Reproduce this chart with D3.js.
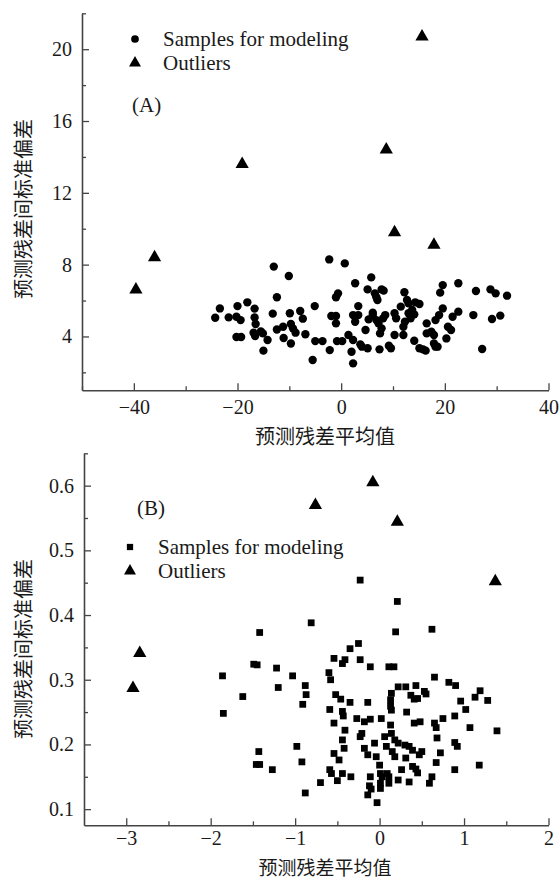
<!DOCTYPE html>
<html>
<head>
<meta charset="utf-8">
<script src="https://cdn.jsdelivr.net/npm/d3@7"></script>
<style>
  body { margin: 0; background: #fff; }
  svg text { fill: #1a1a1a; }
  .tick text { font-family: "Liberation Serif", "Times New Roman", serif !important; font-size: 20px !important; }
</style>
</head>
<body>
<div id="chart"></div>
<script>
// DATA: panel A (mean / std of prediction residuals)
const modelA = [
  [-24.3,5.04],[-23.4,5.56],[-21.7,5.06],[-20.0,5.69],[-20.2,5.10],[-19.4,4.91],[-20.2,3.97],[-19.3,3.97],
  [-18.1,5.90],[-16.7,5.55],[-16.7,5.06],[-16.5,4.69],[-16.9,4.21],[-16.6,4.02],[-15.5,4.28],[-15.1,4.17],
  [-15.0,3.21],[-14.2,3.80],[-13.2,5.27],[-13.0,7.89],[-12.4,6.18],[-12.4,4.39],[-11.2,4.54],[-11.1,3.91],
  [-10.1,7.37],[-9.9,5.29],[-9.7,4.69],[-9.7,3.61],[-9.3,4.45],[-8.8,4.21],[-7.9,5.42],[-7.4,4.99],
  [-6.9,4.12],[-5.1,5.69],[-5.5,2.69],[-5.0,3.74],[-3.6,3.74],[-2.3,8.29],[-2.2,3.24],[-1.9,5.14],
  [-1.0,5.14],[-1.0,6.18],[-0.6,6.40],[-1.0,4.73],[-0.8,3.74],[0.2,3.74],[0.7,8.07],[1.4,4.08],
  [2.0,3.15],[2.3,3.80],[2.3,2.50],[2.7,6.96],[2.3,5.19],[2.7,4.82],[3.3,5.69],[3.3,5.19],
  [3.7,3.56],[4.0,3.43],[5.1,3.34],[4.7,4.36],[5.3,4.95],[5.8,7.29],[5.1,6.62],[6.1,5.32],
  [6.5,6.40],[6.8,6.18],[7.0,6.03],[6.1,5.19],[6.8,4.91],[7.8,6.62],[8.2,6.55],[7.2,4.73],
  [8.1,5.01],[8.5,5.19],[7.5,4.17],[7.8,4.45],[7.4,3.28],[9.2,3.48],[9.6,3.34],[10.3,5.29],
  [10.6,5.01],[10.3,4.08],[11.5,5.66],[12.0,4.08],[12.0,4.54],[12.3,4.82],[12.2,6.46],[12.7,6.03],
  [13.0,5.84],[13.0,5.29],[13.4,5.01],[13.7,5.47],[14.1,5.23],[14.1,3.76],[14.3,5.90],[15.1,5.81],
  [15.1,3.34],[15.8,3.28],[16.3,3.21],[16.5,4.73],[16.5,4.17],[17.4,4.26],[17.9,4.08],[17.9,3.61],
  [18.2,3.43],[18.6,3.43],[18.2,4.91],[18.9,5.19],[19.1,6.44],[19.6,6.86],[19.6,5.56],[20.3,3.89],
  [20.6,4.54],[21.2,4.36],[21.5,5.10],[22.6,6.96],[22.6,5.38],[25.5,5.19],[26.0,6.53],[27.2,3.30],
  [28.8,6.62],[29.8,6.40],[29.1,4.97],[30.7,5.16],[32.0,6.27]
];
const outliersA = [
  [-39.6,6.6],[-36.0,8.4],[-19.1,13.6],[8.7,14.4],[10.3,9.8],[17.9,9.1],[15.6,20.7]
];
const xTicksA = [-40, -20, 0, 20, 40];
const xMinorA = [-50, -30, -10, 10, 30];
const yTicksA = [4, 8, 12, 16, 20];
const yMinorA = [2, 6, 10, 14, 18, 22];

// DATA: panel B
const modelB = [
  [-1.86,0.306],[-1.85,0.248],[-1.62,0.274],[-1.49,0.324],[-1.45,0.323],[-1.43,0.189],[-1.46,0.169],[-1.42,0.169],
  [-1.27,0.161],[-1.22,0.318],[-1.20,0.288],[-1.03,0.306],[-0.98,0.197],[-0.92,0.173],[-0.91,0.262],[-0.88,0.291],
  [-0.87,0.277],[-0.88,0.125],[-0.70,0.141],[-0.60,0.311],[-0.58,0.300],[-0.59,0.254],[-0.59,0.161],[-0.57,0.155],
  [-0.54,0.333],[-0.52,0.277],[-0.54,0.233],[-0.54,0.186],[-0.50,0.144],[-0.48,0.176],[-0.46,0.270],[-0.44,0.325],
  [-0.41,0.331],[-0.44,0.251],[-0.43,0.244],[-0.44,0.207],[-0.42,0.194],[-0.41,0.222],[-0.44,0.155],[-0.35,0.348],
  [-0.35,0.265],[-0.34,0.150],[-0.27,0.240],[-0.25,0.356],[-0.23,0.331],[-0.23,0.212],[-0.21,0.217],[-0.18,0.235],
  [-0.18,0.194],[-0.14,0.265],[-0.14,0.184],[-0.14,0.122],[-0.11,0.320],[-0.11,0.239],[-0.11,0.150],[-0.12,0.136],
  [-0.10,0.131],[-0.06,0.202],[-0.04,0.181],[-0.03,0.110],[0.00,0.168],[0.01,0.155],[0.03,0.150],[0.02,0.240],
  [0.01,0.140],[0.01,0.132],[0.06,0.212],[0.08,0.197],[0.09,0.155],[0.11,0.150],[0.11,0.140],[0.11,0.320],
  [0.17,0.320],[0.13,0.269],[0.14,0.279],[0.13,0.259],[0.14,0.253],[0.13,0.230],[0.14,0.217],[0.15,0.189],
  [0.18,0.181],[0.18,0.207],[0.22,0.202],[0.22,0.289],[0.31,0.289],[0.22,0.145],[0.26,0.161],[0.30,0.199],
  [0.35,0.197],[0.32,0.250],[0.31,0.179],[0.35,0.142],[0.37,0.276],[0.41,0.270],[0.39,0.191],[0.41,0.233],
  [0.39,0.166],[0.43,0.162],[0.45,0.156],[0.43,0.291],[0.45,0.271],[0.48,0.235],[0.50,0.189],[0.47,0.184],
  [0.53,0.282],[0.55,0.278],[0.59,0.140],[0.62,0.150],[0.65,0.304],[0.65,0.233],[0.67,0.226],[0.68,0.210],
  [0.67,0.172],[0.72,0.187],[0.75,0.240],[0.82,0.296],[0.90,0.291],[0.89,0.244],[0.89,0.203],[0.92,0.197],
  [0.89,0.161],[0.96,0.267],[1.02,0.254],[1.07,0.226],[1.13,0.273],[1.19,0.283],[1.18,0.168],[1.28,0.268],
  [1.39,0.221],[-0.23,0.454],[0.21,0.421],[-0.81,0.388],[-1.42,0.373],[0.19,0.374],[0.62,0.378]
];
const outliersB = [
  [-0.76,0.570],[-0.08,0.605],[0.21,0.544],[1.37,0.452],[-2.84,0.341],[-2.92,0.287]
];
const xTicksB = [-3, -2, -1, 0, 1, 2];
const xMinorB = [-2.5, -1.5, -0.5, 0.5, 1.5];
const yTicksB = [0.1, 0.2, 0.3, 0.4, 0.5, 0.6];
const yMinorB = [0.15, 0.25, 0.35, 0.45, 0.55, 0.65];

const legendLabels = ["Samples for modeling", "Outliers"];
const xTitle = "预测残差平均值";
const yTitle = "预测残差间标准偏差";

const W = 560, H = 881;
const serif = "'Liberation Serif', 'Times New Roman', serif";
const cjk = "'Noto Sans CJK SC', sans-serif";

const svg = d3.select("#chart").append("svg")
  .attr("width", W).attr("height", H);

function drawPanel(p) {
  const x = d3.scaleLinear().domain(p.xDomain).range(p.xRange);
  const y = d3.scaleLinear().domain(p.yDomain).range(p.yRange);
  const g = svg.append("g");

  // minor ticks
  g.append("g")
    .attr("transform", `translate(0,${p.yRange[0]})`)
    .call(d3.axisBottom(x).tickValues(p.xMinor).tickSize(-4).tickFormat(""))
    .call(a => a.select(".domain").remove());
  g.append("g")
    .attr("transform", `translate(${p.xRange[0]},0)`)
    .call(d3.axisLeft(y).tickValues(p.yMinor).tickSize(-4).tickFormat(""))
    .call(a => a.select(".domain").remove());

  // major axes, ticks pointing inward
  g.append("g")
    .attr("transform", `translate(0,${p.yRange[0]})`)
    .call(d3.axisBottom(x).tickValues(p.xTicks).tickSizeInner(-7).tickSizeOuter(0).tickPadding(p.xPad)
      .tickFormat(d3.format("d")))
    .attr("font-family", serif).attr("font-size", 20);
  g.append("g")
    .attr("transform", `translate(${p.xRange[0]},0)`)
    .call(d3.axisLeft(y).tickValues(p.yTicks).tickSizeInner(-7).tickSizeOuter(0).tickPadding(10)
      .tickFormat(p.yFormat))
    .attr("font-family", serif).attr("font-size", 20);

  g.selectAll(".tick line").attr("stroke", "#444").attr("stroke-width", 1.3);
  g.selectAll(".domain").attr("stroke", "#444").attr("stroke-width", 1.6);
  g.selectAll(".tick text").attr("fill", "#1a1a1a");

  // markers
  g.append("g").selectAll("path")
    .data(p.model)
    .join("path")
    .attr("transform", d => `translate(${x(d[0])},${y(d[1])})`)
    .attr("d", d3.symbol().type(p.modelSymbol).size(p.modelSize))
    .attr("fill", "#000");

  g.append("g").selectAll("path")
    .data(p.outliers)
    .join("path")
    .attr("transform", d => `translate(${x(d[0])},${y(d[1])})`)
    .attr("d", d3.symbol().type(d3.symbolTriangle).size(76))
    .attr("fill", "#000");

  // legend
  const lg = g.append("g");
  lg.append("path")
    .attr("transform", `translate(${p.legendX},${p.legendY})`)
    .attr("d", d3.symbol().type(p.modelSymbol).size(p.modelSize * 0.85))
    .attr("fill", "#000");
  lg.append("path")
    .attr("transform", `translate(${p.legendX},${p.legendY + 24})`)
    .attr("d", d3.symbol().type(d3.symbolTriangle).size(62))
    .attr("fill", "#000");
  legendLabels.forEach((t, i) => {
    lg.append("text")
      .attr("x", p.legendX + 28).attr("y", p.legendY + i * 24 + 7)
      .style("font-family", serif).style("font-size", "21px")
      .text(t);
  });

  g.append("text")
    .attr("x", p.tagX).attr("y", p.tagY)
    .style("font-family", serif).style("font-size", "21px")
    .text(p.tag);

  // axis titles
  g.append("text")
    .attr("x", 325).attr("y", p.xTitleY)
    .attr("text-anchor", "middle")
    .style("font-family", cjk).style("font-size", p.xTitleSize)
    .text(xTitle);
  g.append("text")
    .attr("transform", `translate(31,${p.yTitleY}) rotate(-90)`)
    .attr("text-anchor", "middle")
    .style("font-family", cjk).style("font-size", "20px")
    .text(yTitle);
}

drawPanel({
  model: modelA, outliers: outliersA,
  xDomain: [-50, 40], xRange: [82, 548.5],
  yDomain: [1, 22], yRange: [390.3, 13.3],
  xTicks: xTicksA, xMinor: xMinorA, yTicks: yTicksA, yMinor: yMinorA,
  yFormat: d3.format("d"), xPad: 10,
  modelSymbol: d3.symbolCircle, modelSize: 55,
  legendX: 135, legendY: 39, tag: "(A)", tagX: 132, tagY: 112,
  xTitleY: 444, xTitleSize: "20px", yTitleY: 209
});

drawPanel({
  model: modelB, outliers: outliersB,
  xDomain: [-3.5, 2], xRange: [84, 548.5],
  yDomain: [0.075, 0.65], yRange: [825.3, 453.3],
  xTicks: xTicksB, xMinor: xMinorB, yTicks: yTicksB, yMinor: yMinorB,
  yFormat: d3.format(".1f"), xPad: 6,
  modelSymbol: d3.symbolSquare, modelSize: 46,
  legendX: 130, legendY: 547, tag: "(B)", tagX: 137, tagY: 515,
  xTitleY: 875, xTitleSize: "19px", yTitleY: 649
});
</script>
</body>
</html>
